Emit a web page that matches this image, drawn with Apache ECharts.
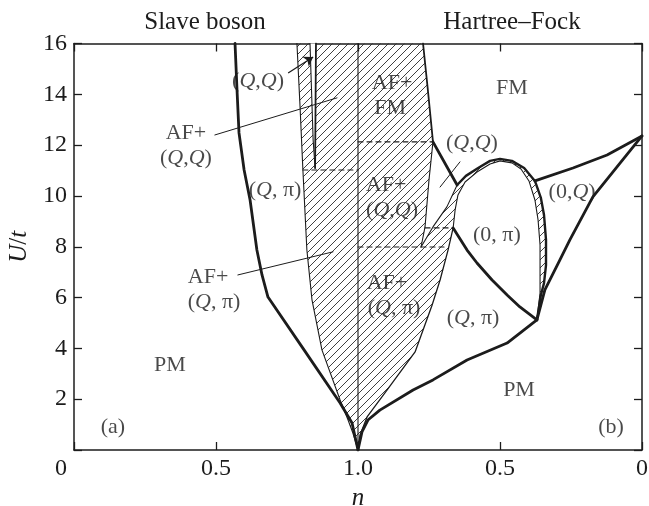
<!DOCTYPE html>
<html><head><meta charset="utf-8">
<script src="https://cdn.jsdelivr.net/npm/echarts@6/dist/echarts.min.js"></script>
<style>html,body{margin:0;padding:0;background:#fff}#c{width:649px;height:506px}</style>
</head><body><div id="c"></div>
<script>
// Folded x axis: left half = n (slave boson), right half = 2 - n (Hartree-Fock)
const xTickLabels = ['0', '0.5', '1.0', '0.5', '0'];
const yTickValues = [0, 2, 4, 6, 8, 10, 12, 14, 16];

// ---- Slave boson side, points [n, U/t] ----
const sbPM = [[0.567,16],[0.574,14.17],[0.581,12.48],[0.599,11.02],[0.620,9.84],[0.644,7.87],[0.662,6.89],[0.683,6.02],[0.810,3.94],[0.937,1.85],[0.979,1.06],[1,0]];
const sbAfEdge = [[0.785,16],[0.796,13.5],[0.806,11.02],[0.820,7.87],[0.838,5.91],[0.873,3.94],[0.937,1.97],[0.965,1.18],[0.982,0.67],[1,0]];
const sbStripL = [[0.831,16],[0.842,12.2],[0.849,11.1]];
const sbStripR = [[0.852,16],[0.849,11.1]];
const sbDash11 = [[0.806,11.02],[1,11.02]];

// ---- Hartree-Fock side, points [n, U/t] ----
const hfAfFmEdge = [[0.771,16],[0.754,14.17],[0.736,12.13]];
const hfQQLeft = [[0.736,12.13],[0.750,10.63],[0.764,8.78],[0.778,7.99]];
const hfDiag = [[0.778,7.99],[0.736,8.78],[0.687,9.57],[0.651,10.43]];
const hfFmQQ = [[0.736,12.13],[0.651,10.43]];
const hfDomeOuter = [[0.651,10.43],[0.620,10.79],[0.577,11.10],[0.535,11.38],[0.500,11.46],[0.458,11.38],[0.415,11.10],[0.377,10.59],[0.356,9.92],[0.345,9.25],[0.338,8.27],[0.338,7.28],[0.345,6.57],[0.356,6.10],[0.370,5.12]];
const hfDomeInner = [[0.665,8.74],[0.658,9.45],[0.648,10.04],[0.623,10.55],[0.581,10.94],[0.535,11.26],[0.500,11.38],[0.458,11.30],[0.426,11.06],[0.398,10.59],[0.377,9.84],[0.366,9.06],[0.359,8.07],[0.359,7.09],[0.359,6.18],[0.370,5.12]];
const hfPiQPi = [[0.665,8.74],[0.616,7.87],[0.581,7.36],[0.528,6.69],[0.475,6.10],[0.430,5.63],[0.370,5.12]];
const hfAfEdge = [[0.665,8.74],[0.683,7.87],[0.711,6.69],[0.739,5.71],[0.799,3.86],[0.898,2.36],[0.968,1.30],[0.993,0.59],[1,0]];
const hfPM = [[1,0],[0.986,0.71],[0.965,1.18],[0.923,1.57],[0.806,2.36],[0.736,2.76],[0.616,3.54],[0.475,4.21],[0.370,5.12]];
const hf0QTop = [[0.377,10.59],[0.243,11.10],[0.123,11.61],[0,12.36]];
const hf0QBottom = [[0,12.36],[0.088,11.14],[0.173,9.96],[0.254,8.27],[0.289,7.48],[0.342,6.30],[0.370,5.12]];
const hfDash12 = [[1,12.13],[0.736,12.13]];
const hfDash87 = [[0.764,8.74],[0.665,8.74]];
const hfDash8 = [[1,7.99],[0.687,7.99]];

// ---- annotations (folded x, U) ----
const annArrow = [[0.754,14.84],[0.842,15.47]];
const annLines = [
  [[0.496,12.40],[0.926,13.86]],
  [[0.577,6.89],[0.912,7.80]],
  [[1.359,11.34],[1.289,10.35]]
];
const labels = [
  ['({i|Q},{i|Q})', 0.648, 14.53],
  ['AF+', 0.394, 12.48],
  ['({i|Q},{i|Q})', 0.394, 11.50],
  ['({i|Q}, π)', 0.708, 10.24],
  ['AF+', 0.472, 6.81],
  ['({i|Q}, π)', 0.493, 5.83],
  ['PM', 0.338, 3.35],
  ['(a)', 0.137, 0.91],
  ['AF+', 1.120, 14.45],
  ['FM', 1.113, 13.46],
  ['AF+', 1.099, 10.43],
  ['({i|Q},{i|Q})', 1.120, 9.45],
  ['AF+', 1.102, 6.57],
  ['({i|Q}, π)', 1.127, 5.59],
  ['FM', 1.542, 14.25],
  ['({i|Q},{i|Q})', 1.401, 12.09],
  ['(0, π)', 1.489, 8.46],
  ['(0,{i|Q})', 1.754, 10.16],
  ['({i|Q}, π)', 1.405, 5.20],
  ['PM', 1.567, 2.36],
  ['(b)', 1.891, 0.91]
];

const L = pts => pts.map(p => [p[0], p[1]]);
const R = pts => pts.map(p => [2 - p[0], p[1]]);

const FONT = "'Liberation Serif', 'DejaVu Serif', serif";
const INK = '#1c1c1c';

// hatch pattern
const tile = document.createElement('canvas');
tile.width = 8; tile.height = 8;
const g = tile.getContext('2d');
g.strokeStyle = '#2a2a2a'; g.lineWidth = 0.9;
g.beginPath();
g.moveTo(0, 8); g.lineTo(8, 0);
g.moveTo(-2, 2); g.lineTo(2, -2);
g.moveTo(6, 10); g.lineTo(10, 6);
g.stroke();
const hatch = { image: tile, repeat: 'repeat' };

function poly(points, fill, z) {
  return {
    type: 'custom', coordinateSystem: 'cartesian2d', silent: true, z: z,
    data: [points[0]],
    renderItem: function (params, api) {
      return { type: 'polygon', shape: { points: points.map(p => api.coord(p)) }, style: { fill: fill, stroke: null } };
    }
  };
}
function line(points, width, type) {
  return {
    type: 'line', data: points, showSymbol: false, symbol: 'none', silent: true, z: 3,
    lineStyle: { color: INK, width: width, type: type || 'solid', join: 'round', cap: 'round' },
    animation: false
  };
}

const sbHatchPoly = L(sbAfEdge).concat([[1, 16]]);
const hfHatchPoly = [[1, 16]].concat(R(hfAfFmEdge), R(hfQQLeft.slice(1)), R(hfDiag.slice(1)),
  R(hfDomeOuter.slice(1)), R(hfPiQPi.slice(0, -1).reverse()), R(hfAfEdge));
const hfPiPoly = R(hfDomeInner).concat(R(hfPiQPi.slice(1, -1).reverse()));
const sbStripPoly = L(sbStripL).concat(L(sbStripR.slice().reverse()));

const THICK = 2.8, MED = 1.8, THIN = 1.1;

const series = [
  poly(sbHatchPoly, hatch, 1),
  poly(hfHatchPoly, hatch, 1),
  poly(hfPiPoly, '#fff', 2),
  poly(sbStripPoly, '#fff', 2),
  line([[1, 0], [1, 16]], THIN),
  line(L(sbPM), THICK),
  line(L(sbAfEdge), THIN),
  line(L(sbStripL), THIN),
  line(L(sbStripR), MED),
  line(L(sbDash11), 1.2, [5, 4]),
  line(R(hfAfFmEdge), MED),
  line(R(hfQQLeft), THIN),
  line(R(hfDiag), THIN),
  line(R(hfFmQQ), THICK),
  line(R(hfDomeOuter), 2.4),
  line(R(hfDomeInner), THIN),
  line(R(hfPiQPi), THICK),
  line(R(hfAfEdge), 1.3),
  line(R(hfPM), THICK),
  line(R(hf0QTop), THICK),
  line(R(hf0QBottom), THICK),
  line(R(hfDash12), 1.2, [5, 4]),
  line(R(hfDash87), 1.2, [5, 4]),
  line(R(hfDash8), 1.2, [5, 4])
];
annLines.forEach(a => series.push(line(a, 1.0)));
series.push({
  type: 'line', data: [], silent: true, z: 4,
  markLine: {
    silent: true, animation: false, symbol: ['none', 'arrow'], symbolSize: 9,
    lineStyle: { color: INK, width: 1.2, type: 'solid' }, label: { show: false },
    data: [[{ coord: annArrow[0] }, { coord: annArrow[1] }]]
  }
});
series.push({
  type: 'scatter', symbolSize: 1, silent: true, z: 6,
  itemStyle: { color: 'rgba(0,0,0,0)' },
  data: labels.map(l => ({ value: [l[1], l[2]], label: { formatter: l[0] } })),
  label: {
    show: true, position: 'inside', color: INK, fontFamily: FONT, fontSize: 22,
    rich: { i: { fontStyle: 'italic', fontFamily: FONT, fontSize: 22, color: INK } }
  }
});

const axisLine = { show: true, onZero: false, lineStyle: { color: INK, width: 1.5 } };
const tickIn = { show: true, inside: true, length: 8, lineStyle: { color: INK, width: 1.3 } };

const chart = echarts.init(document.getElementById('c'), null, { renderer: 'canvas' });
chart.setOption({
  animation: false,
  backgroundColor: '#fff',
  grid: { left: 74, right: 7, top: 43.5, bottom: 56, containLabel: false, outerBoundsMode: 'none' },
  graphic: [
    { type: 'text', x: 205, y: 22, style: { text: 'Slave boson', fontFamily: FONT, fontSize: 25, fill: INK, align: 'center', verticalAlign: 'middle' } },
    { type: 'text', x: 512, y: 22, style: { text: 'Hartree–Fock', fontFamily: FONT, fontSize: 25, fill: INK, align: 'center', verticalAlign: 'middle' } }
  ],
  xAxis: [
    {
      type: 'value', position: 'bottom', min: 0, max: 2, interval: 0.5,
      axisLine: axisLine, axisTick: tickIn, splitLine: { show: false },
      name: 'n', nameLocation: 'middle', nameGap: 32,
      nameTextStyle: { fontFamily: FONT, fontSize: 25, fontStyle: 'italic', color: INK },
      axisLabel: {
        margin: 7, color: INK, fontFamily: FONT, fontSize: 24,
        formatter: v => { const k = Math.round(v / 0.5); return k === 0 ? '{z|' + xTickLabels[0] + '}' : xTickLabels[k]; },
        rich: { z: { padding: [0, 26, 0, 0], fontFamily: FONT, fontSize: 24, color: INK } }
      }
    },
    {
      type: 'value', position: 'top', min: 0, max: 2, interval: 0.5,
      axisLine: axisLine, axisTick: tickIn, axisLabel: { show: false }, splitLine: { show: false }
    }
  ],
  yAxis: [
    {
      type: 'value', position: 'left', min: 0, max: 16, interval: 2,
      axisLine: axisLine, axisTick: tickIn, splitLine: { show: false },
      name: '{i|U}/{i|t}', nameLocation: 'middle', nameGap: 39,
      nameTextStyle: { fontFamily: FONT, fontSize: 25, color: INK, rich: { i: { fontStyle: 'italic', fontFamily: FONT, fontSize: 25, color: INK } } },
      axisLabel: {
        margin: 7, color: INK, fontFamily: FONT, fontSize: 24,
        formatter: v => (v === 0 ? '' : String(yTickValues[Math.round(v / 2)]))
      }
    },
    {
      type: 'value', position: 'right', min: 0, max: 16, interval: 2,
      axisLine: axisLine, axisTick: tickIn, axisLabel: { show: false }, splitLine: { show: false }
    }
  ],
  series: series
});
</script></body></html>
